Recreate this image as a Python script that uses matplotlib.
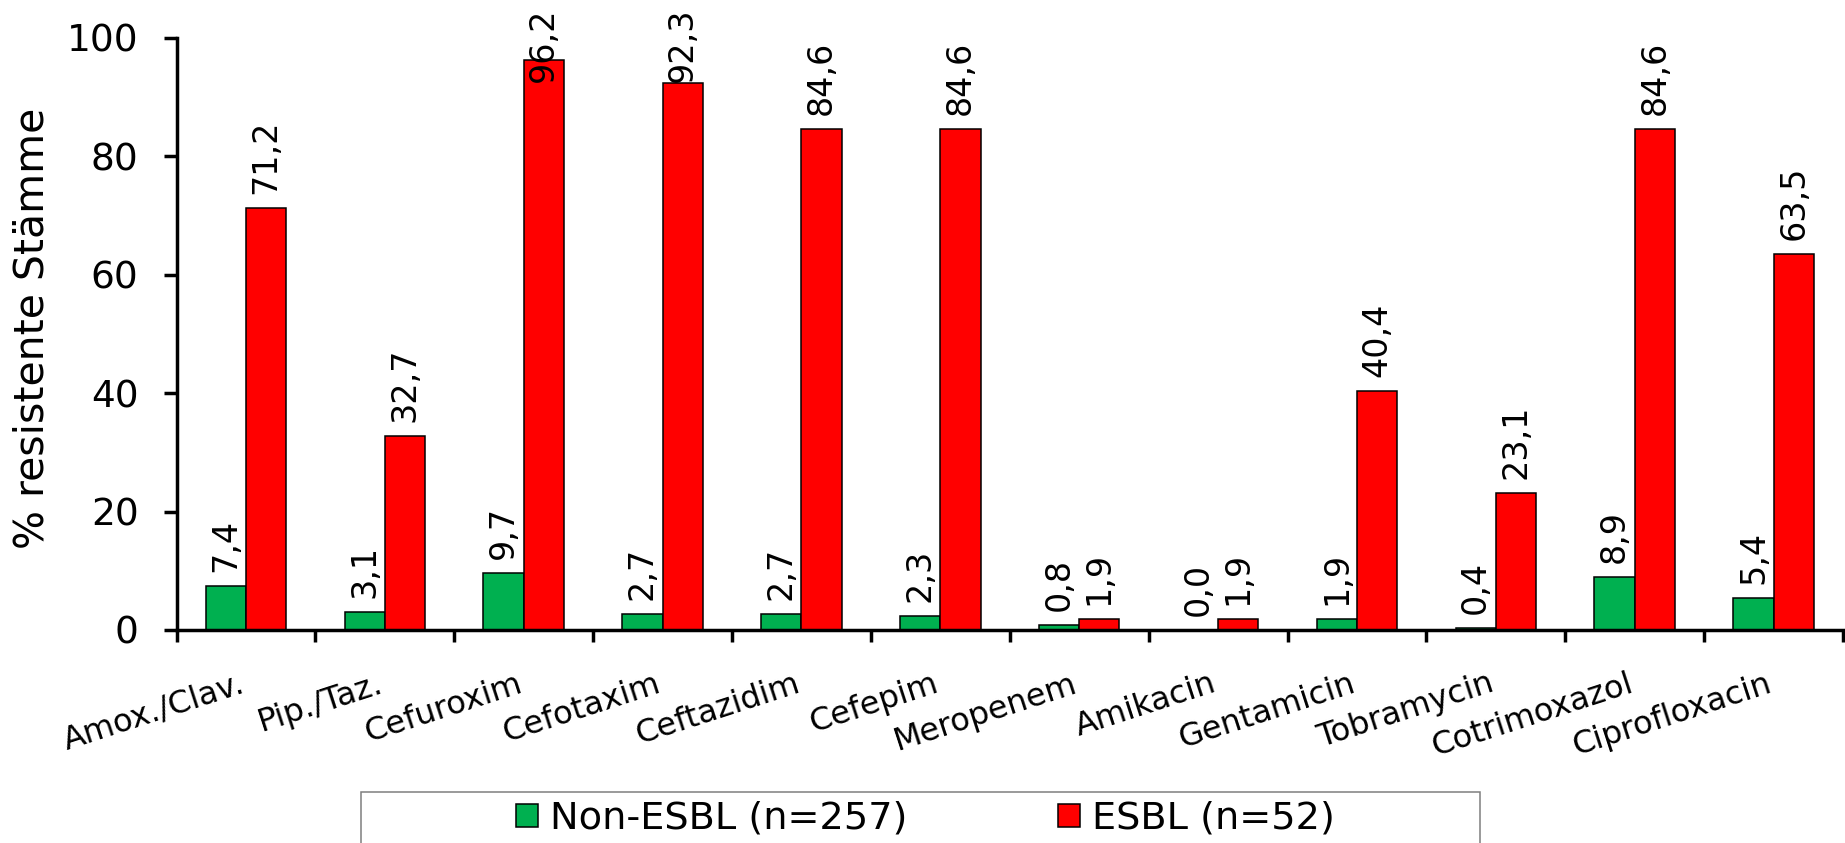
import matplotlib
matplotlib.use("Agg")
import matplotlib.pyplot as plt
import numpy as np
from matplotlib.patches import Rectangle
from matplotlib.ticker import FixedLocator

# Resistance rates (%) per antibiotic
antibiotics = ["Amox./Clav.", "Pip./Taz.", "Cefuroxim", "Cefotaxim", "Ceftazidim",
               "Cefepim", "Meropenem", "Amikacin", "Gentamicin", "Tobramycin",
               "Cotrimoxazol", "Ciprofloxacin"]
non_esbl = [7.4, 3.1, 9.7, 2.7, 2.7, 2.3, 0.8, 0.0, 1.9, 0.4, 8.9, 5.4]
esbl = [71.2, 32.7, 96.2, 92.3, 84.6, 84.6, 1.9, 1.9, 40.4, 23.1, 84.6, 63.5]
series_labels = ["Non-ESBL (n=257)", "ESBL (n=52)"]
y_ticks = [0, 20, 40, 60, 80, 100]
y_label = "% resistente Stämme"

W, H, DPI = 1845, 843, 100
PT = 72 / DPI  # points per pixel

fig = plt.figure(figsize=(W / DPI, H / DPI), dpi=DPI)
ax = fig.add_axes([176.5 / W, 1 - 630 / H, (1843 - 176.5) / W, (630 - 37.6) / H])

x = np.arange(len(antibiotics))
bw = 0.29
b1 = ax.bar(x - bw / 2, non_esbl, bw, color="#00B050", edgecolor="black", linewidth=1.1)
b2 = ax.bar(x + bw / 2, esbl, bw, color="#FF0000", edgecolor="black", linewidth=1.1)

ax.set_xlim(-0.5, len(antibiotics) - 0.5)
ax.set_ylim(0, 100)
for s in ("top", "right"):
    ax.spines[s].set_visible(False)
for s in ("left", "bottom"):
    ax.spines[s].set_linewidth(2.5)

ax.set_yticks(y_ticks)
ax.tick_params(axis="y", direction="out", length=13 * PT, width=2.5,
               labelsize=27, pad=18)

ax.set_xticks(x)
ax.set_xticklabels(antibiotics)
ax.tick_params(axis="x", which="major", length=0, pad=61 * PT, labelsize=23)
ax.xaxis.set_minor_locator(FixedLocator(np.arange(-0.5, len(antibiotics), 1.0)))
ax.tick_params(axis="x", which="minor", direction="out", length=12 * PT, width=2.5)
plt.setp(ax.get_xticklabels(), rotation=18, ha="right", va="baseline",
         rotation_mode="anchor")

def fmt(v):
    return f"{v:.1f}".replace(".", ",")

pad = 10
labels = []
for bars, vals in ((b1, non_esbl), (b2, esbl)):
    labels += ax.bar_label(bars, labels=[fmt(v) for v in vals], padding=pad,
                           rotation=90, fontsize=24)

# keep value labels inside the figure: push tall ones down
fig.canvas.draw()
renderer = fig.canvas.get_renderer()
limit = H - 8
for t in labels:
    bb = t.get_window_extent(renderer)
    if bb.y1 > limit:
        shift = bb.y1 - limit
        t.xyann = (0, pad - shift * PT)

fig.text(33 / W, 1 - 328.5 / H, y_label, rotation=90, ha="center", va="center",
         fontsize=29.5)

fs = 27.5
fpx = fs / PT
fig.legend([b1, b2], series_labels, loc="center",
           bbox_to_anchor=(925.5 / W, 1 - 819 / H), ncol=2, frameon=False,
           fontsize=fs, handlelength=22 / fpx, handleheight=22 / fpx,
           handletextpad=12 / fpx, columnspacing=150 / fpx,
           borderpad=0, borderaxespad=0)
fig.add_artist(Rectangle((361 / W, 1 - 860 / H), (1480 - 361) / W, (860 - 792) / H,
                         transform=fig.transFigure, fill=False,
                         edgecolor="#7f7f7f", linewidth=1.1, clip_on=False))

fig.savefig("out.png", dpi=DPI)
